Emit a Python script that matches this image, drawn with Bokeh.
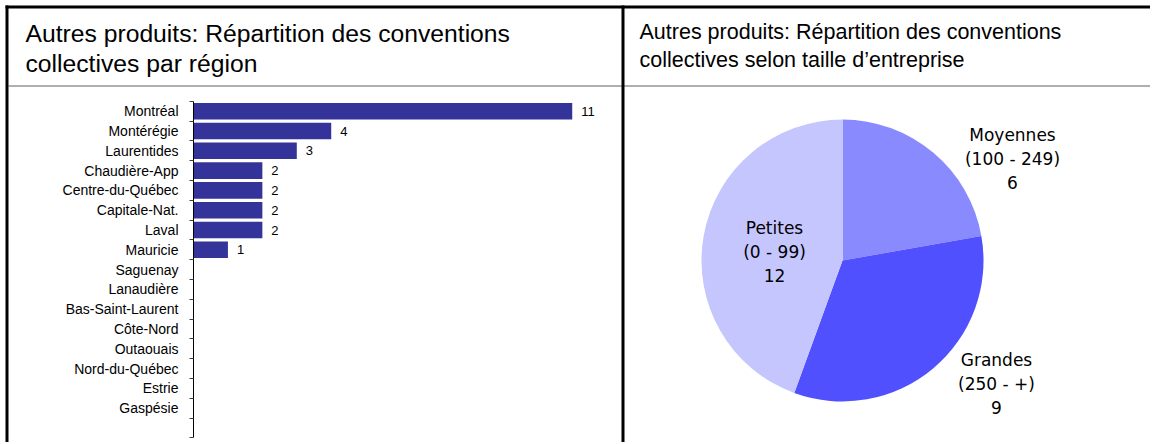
import math
from bokeh.plotting import figure
from bokeh.models import Range1d, LinearAxis, FixedTicker, BoxAnnotation
from bokeh.core.properties import value
from bokeh.embed import file_html
from bokeh.resources import INLINE

# ---------------- data ----------------
regions = ["Montréal", "Montérégie", "Laurentides", "Chaudière-App",
           "Centre-du-Québec", "Capitale-Nat.", "Laval", "Mauricie",
           "Saguenay", "Lanaudière", "Bas-Saint-Laurent", "Côte-Nord",
           "Outaouais", "Nord-du-Québec", "Estrie", "Gaspésie"]
region_counts = [11, 4, 3, 2, 2, 2, 2, 1, 0, 0, 0, 0, 0, 0, 0, 0]

size_labels = ["Moyennes\n(100 - 249)", "Grandes\n(250 - +)", "Petites\n(0 - 99)"]
size_counts = [6, 9, 12]

title_left_lines = ["Autres produits: Répartition des conventions",
                    "collectives par région"]
title_right_lines = ["Autres produits: Répartition des conventions",
                     "collectives selon taille d’entreprise"]

# ---------------- styles / layout constants (page pixels) ----------------
W, H = 1150, 442
BAR_COLOR = "#333399"
SIZE_COLORS = ["#8a8aff", "#5050ff", "#c6c6ff"]
SIZE_LABEL_POS = [(170, 102), (154, -123), (-68, 9)]  # px offsets from pie centre
BLACK = "#000000"
SEP_COLOR = "#606060"

AXIS_PX = 193          # x of the bar chart's value axis origin
PX_PER_UNIT = 34.43    # bar length per unit
CAT_TOP = 100.8        # y of the top category boundary
CAT_PITCH = 19.8       # height of one category slot
PIE_CX, PIE_CY, PIE_R = 842, 260, 141
DIV_X = 621


def Y(py):
    """page y (from top) -> base data y (from bottom)"""
    return H - py


p = figure(width=W, height=H, toolbar_location=None, output_backend="svg",
           min_border=0, x_axis_type=None, y_axis_type=None,
           outline_line_color=None, x_range=Range1d(0, W),
           y_range=Range1d(0, H))

n_slots = len(regions) + 1
p.extra_x_ranges = {
    "bars": Range1d(-AXIS_PX / PX_PER_UNIT, (W - AXIS_PX) / PX_PER_UNIT),
    "pie_x": Range1d(-PIE_CX, W - PIE_CX),
}
p.extra_y_ranges = {
    "cats": Range1d(-0.5 + (H - CAT_TOP) / CAT_PITCH, -0.5 - CAT_TOP / CAT_PITCH),
    "pie_y": Range1d(-(H - PIE_CY), PIE_CY),
}


def box(color=BLACK, **kw):
    p.add_layout(BoxAnnotation(fill_color=color, fill_alpha=1.0,
                               line_color=None, **kw))


# ---------------- frame lines ----------------
box(color=SEP_COLOR, left=8, right=W, top=Y(85), bottom=Y(86))
box(left=5, right=W, top=Y(5), bottom=Y(8))
box(left=5, right=8, top=Y(5), bottom=0)
box(left=DIV_X, right=DIV_X + 3, top=Y(5), bottom=0)

# ---------------- titles ----------------
p.text(x=[25, 25], y=[Y(33), Y(63)], text=title_left_lines,
       text_font=value("Liberation Sans"), text_font_size="24.7px",
       text_align="left", text_baseline="alphabetic", text_color=BLACK)
p.text(x=[639, 639], y=[Y(31.5), Y(59)], text=title_right_lines,
       text_font=value("Liberation Sans"), text_font_size="21.5px",
       text_align="left", text_baseline="alphabetic", text_color=BLACK)

# ---------------- bar chart ----------------
idx = list(range(len(regions)))
p.hbar(y=idx, left=0, right=region_counts, height=0.84,
       fill_color=BAR_COLOR, line_color=None,
       x_range_name="bars", y_range_name="cats")

lab_idx = [i for i, v in enumerate(region_counts) if v > 0]
p.text(x=[region_counts[i] for i in lab_idx], y=lab_idx,
       text=[str(region_counts[i]) for i in lab_idx], x_offset=9,
       text_baseline="middle", text_align="left",
       text_font=value("Liberation Sans"), text_font_size="13px",
       text_color=BLACK, x_range_name="bars", y_range_name="cats")

ax = LinearAxis(
    x_range_name="bars", y_range_name="cats", fixed_location=0,
    bounds=(-0.5, len(regions) + 0.5),
    ticker=FixedTicker(ticks=idx,
                       minor_ticks=[i - 0.5 for i in range(n_slots + 1)]),
    major_label_overrides={i: n for i, n in enumerate(regions)},
    major_tick_out=0, major_tick_in=0, minor_tick_out=4, minor_tick_in=0,
    major_label_standoff=11, axis_line_color=BLACK,
    minor_tick_line_color="#404040",
    major_label_text_font="Liberation Sans",
    major_label_text_font_size="14px", major_label_text_color=BLACK)
p.add_layout(ax, "left")

# ---------------- pie chart ----------------
total = sum(size_counts)
starts, ends, acc = [], [], 0
for v in size_counts:
    starts.append(math.pi / 2 - 2 * math.pi * acc / total)
    acc += v
    ends.append(math.pi / 2 - 2 * math.pi * acc / total)
p.wedge(x=[0] * len(size_counts), y=[0] * len(size_counts), radius=PIE_R,
        start_angle=starts, end_angle=ends, direction="clock",
        fill_color=SIZE_COLORS, line_color=None,
        x_range_name="pie_x", y_range_name="pie_y")
p.text(x=[q[0] for q in SIZE_LABEL_POS], y=[q[1] for q in SIZE_LABEL_POS],
       text=[f"{l}\n{c}" for l, c in zip(size_labels, size_counts)],
       text_align="center", text_baseline="middle",
       text_font=value("DejaVu Sans"), text_font_size="17px",
       text_line_height=1.2, text_color=BLACK,
       x_range_name="pie_x", y_range_name="pie_y")

open("out.html", "w").write(file_html(p, INLINE))
